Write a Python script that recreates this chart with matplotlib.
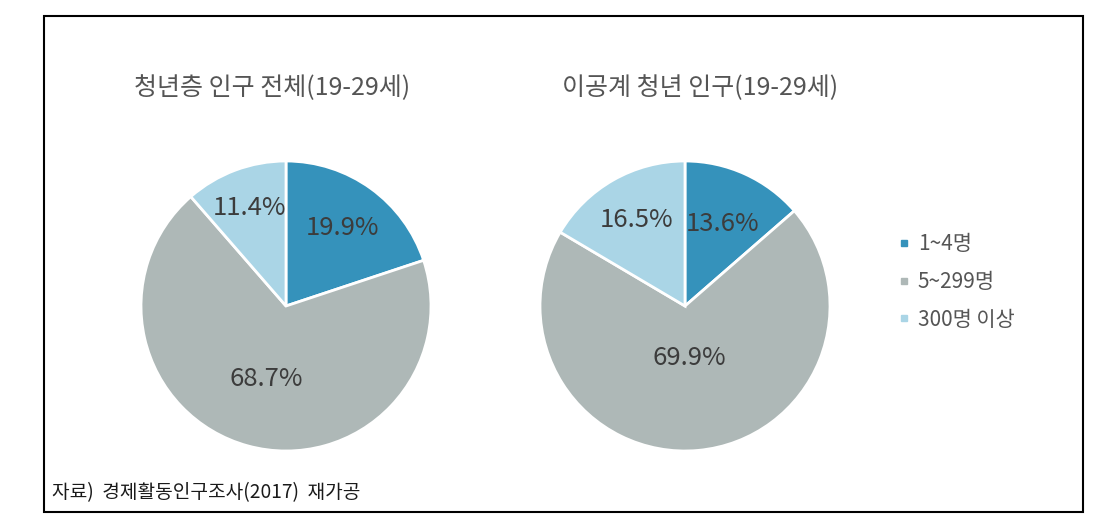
import numpy as np
import matplotlib.pyplot as plt
from matplotlib.lines import Line2D
from matplotlib.patches import Rectangle

plt.rcParams['font.family'] = ['Noto Sans CJK KR', 'DejaVu Sans']

# data
categories = ["1~4명", "5~299명", "300명 이상"]
titles = ["청년층 인구 전체(19-29세)", "이공계 청년 인구(19-29세)"]
all_youth = [19.9, 68.7, 11.4]
stem_youth = [13.6, 69.9, 16.5]
colors = ["#3592bb", "#aeb8b7", "#aad5e6"]
source_note = "자료)  경제활동인구조사(2017)  재가공"

W, H = 1111, 523
fig = plt.figure(figsize=(W / 100, H / 100), dpi=100)

# outer border
fig.patches.append(Rectangle((44 / W, 1 - 512 / H), (1083 - 44) / W, (512 - 16) / H,
                             transform=fig.transFigure, fill=False,
                             edgecolor="black", linewidth=1.5))


def draw_pie(cx, cy, r, values, title, label_dist, title_x):
    ax = fig.add_axes([(cx - r) / W, 1 - (cy + r) / H, 2 * r / W, 2 * r / H])
    wedges, texts, autotexts = ax.pie(
        values, colors=colors, startangle=90, counterclock=False,
        autopct=lambda p: f"{p:.1f}%",
        wedgeprops=dict(edgecolor="white", linewidth=2),
        textprops=dict(color="#3c3c3c", fontsize=18.5))
    # move labels to individual distances
    for w, t, d in zip(wedges, autotexts, label_dist):
        ang = np.deg2rad((w.theta1 + w.theta2) / 2)
        t.set_position((d * np.cos(ang), d * np.sin(ang)))
    ax.set_xlim(-1, 1)
    ax.set_ylim(-1, 1)
    ax.set_aspect("equal")
    fig.text(title_x / W, 1 - 88 / H, title, ha="center", va="center",
             fontsize=18, color="#555555")
    return wedges


draw_pie(286, 306, 145, all_youth, titles[0], [0.66, 0.52, 0.72], 272)
draw_pie(685, 306, 145, stem_youth, titles[1], [0.62, 0.36, 0.68], 700)

handles = [Line2D([], [], marker="s", linestyle="", color=c, markersize=5)
           for c in colors]
fig.legend(handles, categories, loc="center left",
           bbox_to_anchor=(875 / W, 1 - 282 / H), frameon=False,
           fontsize=15, labelcolor="#555555", handletextpad=0.15,
           labelspacing=0.75, handlelength=1.0)

fig.text(52 / W, 1 - 493 / H, source_note, ha="left", va="center",
         fontsize=13.8, color="#1a1a1a")

fig.savefig("out.png", dpi=100)
